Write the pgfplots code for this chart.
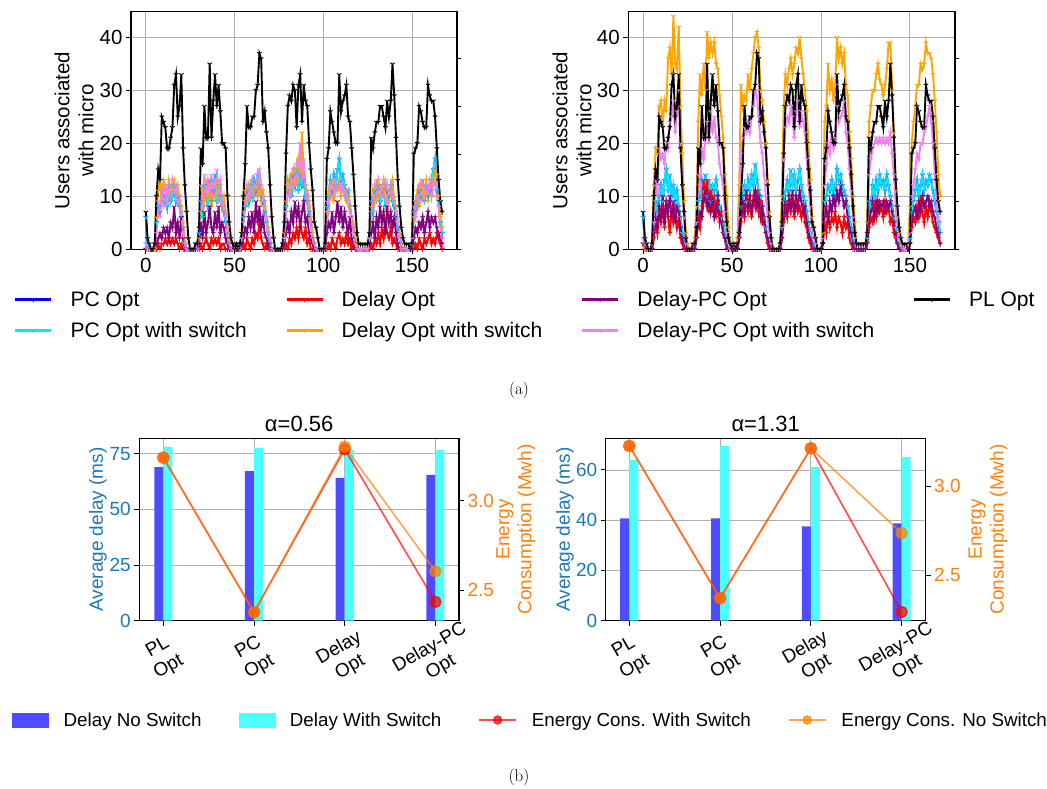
\documentclass[border=0pt]{standalone}
\usepackage{fontspec}
\usepackage{pgfplots}
\usepackage{pgfplotstable}
\pgfplotsset{compat=1.18}
\usetikzlibrary{plotmarks}
\newfontfamily\pf{Liberation Sans}

\definecolor{cPC}{RGB}{0,0,255}
\definecolor{cPCs}{RGB}{0,235,255}
\definecolor{cD}{RGB}{255,0,0}
\definecolor{cDs}{RGB}{255,165,0}
\definecolor{cDP}{RGB}{128,0,128}
\definecolor{cDPs}{RGB}{238,130,238}
\definecolor{tabblue}{RGB}{31,119,180}
\definecolor{taborange}{RGB}{255,127,14}
\definecolor{barblue}{RGB}{77,77,255}
\definecolor{barcyan}{RGB}{77,255,255}
\definecolor{gridgray}{RGB}{176,176,176}

% top-left: x, PC with switch (c), Delay (r), Delay with switch (o), Delay-PC (p), Delay-PC with switch (v), PL (k)
\pgfplotstableread{
x c r o p v k
0 6 0 0 0 1 7
1 1 0 0 0 0 2
2 0 0 0 0 0 1
3 0 0 0 0 0 0
4 0 0 0 0 0 0
5 0 0 0 1 1 1
6 5 0 6 1 3 10
7 8 1 11 2 9 15
8 7 0 13 3 6 13
9 11 1 9 2 11 25
10 9 1 13 4 8 24
11 10 2 12 3 12 23
12 8 1 10 4 9 19
13 12 2 13 2 12 19
14 9 1 11 5 10 21
15 10 2 12 4 13 23
16 12 1 13 8 11 31
17 9 2 10 3 12 33
18 10 1 12 5 9 25
19 8 0 9 2 10 27
20 6 1 8 6 7 33
21 4 0 5 2 3 19
22 1 0 2 0 1 12
23 0 0 0 0 0 7
24 0 0 0 0 0 2
25 0 0 0 0 0 0
26 0 0 0 0 0 0
27 0 0 0 0 0 0
28 0 0 0 0 1 1
29 1 0 1 0 0 1
30 3 0 2 1 4 4
31 9 1 7 5 12 19
32 6 0 11 2 8 16
33 12 1 9 7 14 27
34 10 2 13 3 10 21
35 8 1 10 5 13 21
36 13 0 12 8 11 35
37 9 2 8 4 14 21
38 11 1 12 3 10 28
39 14 2 10 7 12 33
40 9 1 13 4 15 27
41 12 2 9 8 11 31
42 10 0 12 3 13 26
43 8 1 8 5 9 20
44 7 1 10 4 8 20
45 5 0 7 2 6 19
46 3 0 4 1 3 10
47 1 0 2 0 1 5
48 0 0 0 0 0 2
49 0 0 0 0 0 1
50 0 0 0 0 0 0
51 0 0 0 0 1 1
52 0 0 0 0 0 0
53 1 0 0 0 0 1
54 2 0 3 1 2 3
55 6 1 7 2 5 10
56 8 0 11 4 9 16
57 11 2 9 3 12 27
58 9 1 12 6 10 23
59 12 0 10 4 11 23
60 10 2 13 7 13 25
61 13 1 11 3 10 25
62 11 3 12 9 12 30
63 14 2 10 5 14 31
64 12 5 13 8 15 37
65 10 2 9 4 12 36
66 9 1 11 6 10 24
67 7 0 8 3 9 26
68 5 1 6 2 6 22
69 3 0 4 1 3 19
70 1 0 2 0 2 12
71 0 0 0 0 0 6
72 0 0 0 0 0 2
73 0 0 0 0 0 0
74 0 0 0 0 0 0
75 0 0 0 0 0 0
76 0 0 0 0 0 0
77 0 0 0 0 1 1
78 2 0 3 1 2 5
79 8 1 9 3 7 18
80 11 0 13 5 12 27
81 13 2 11 3 10 29
82 10 1 14 7 13 28
83 14 3 12 5 15 31
84 12 2 15 9 12 30
85 15 4 13 6 16 23
86 11 2 17 8 14 31
87 14 5 15 4 20 33
88 12 3 22 7 13 24
89 13 2 14 9 17 31
90 10 4 12 5 12 28
91 9 1 11 6 10 27
92 7 2 9 3 8 20
93 5 0 6 2 5 15
94 2 0 3 1 2 11
95 1 0 1 0 1 5
96 0 0 0 0 0 4
97 0 0 0 0 0 2
98 0 0 0 0 0 0
99 0 0 0 0 0 0
100 0 0 0 0 0 0
101 1 0 0 0 1 1
102 8 0 7 3 9 17
103 10 1 11 5 7 19
104 13 0 10 4 12 26
105 11 2 13 7 10 24
106 14 1 9 3 13 22
107 12 0 12 6 11 20
108 15 2 11 9 12 20
109 17 3 13 5 13 33
110 13 1 10 8 11 26
111 14 2 12 4 12 28
112 12 1 11 7 10 29
113 10 3 9 5 11 31
114 11 1 10 3 9 25
115 8 2 8 6 7 24
116 6 0 6 2 6 19
117 4 1 5 1 3 14
118 2 0 2 0 1 8
119 0 0 1 0 0 3
120 0 0 0 0 0 1
121 0 0 0 0 0 1
122 0 0 0 0 0 1
123 0 0 0 0 0 1
124 0 0 0 0 0 1
125 0 0 0 0 0 1
126 2 0 2 1 2 3
127 9 1 8 3 7 21
128 7 0 11 5 10 19
129 11 2 9 2 12 22
130 10 1 13 6 9 24
131 12 3 10 4 13 24
132 9 1 12 8 11 27
133 11 4 11 5 10 27
134 12 2 13 7 12 25
135 8 6 10 3 13 23
136 11 3 12 8 9 28
137 10 2 9 5 11 25
138 12 4 11 7 12 28
139 9 1 13 4 10 35
140 8 2 9 6 9 29
141 6 1 8 3 7 21
142 4 0 5 1 5 13
143 2 0 3 0 2 8
144 1 0 1 0 0 4
145 0 0 0 0 0 2
146 0 0 0 0 0 1
147 0 0 0 0 0 1
148 0 0 0 0 0 1
149 0 0 0 0 0 0
150 1 0 1 0 2 1
151 7 0 6 2 8 18
152 9 1 9 4 6 19
153 8 0 11 3 10 20
154 11 2 8 5 12 27
155 10 1 12 4 9 26
156 13 0 10 6 13 24
157 9 2 11 3 10 23
158 12 1 13 5 12 23
159 10 2 9 7 11 31
160 11 3 12 4 13 29
161 13 1 10 6 10 28
162 15 2 13 5 12 28
163 17 1 15 6 13 25
164 11 3 14 4 10 19
165 9 2 10 3 8 13
166 5 1 6 2 4 9
167 3 0 4 1 2 7
}\TL

% top-right
\pgfplotstableread{
x c r o p v k
0 6 1 1 1 2 7
1 1 0 0 1 1 2
2 0 0 0 0 1 1
3 0 0 0 0 0 0
4 0 0 0 0 0 0
5 0 0 1 0 1 1
6 5 2 12 3 5 10
7 9 5 19 6 13 15
8 7 3 18 4 10 13
9 10 7 27 8 19 25
10 12 5 28 6 17 24
11 9 8 23 10 18 23
12 13 4 28 5 16 19
13 15 9 26 9 20 19
14 11 6 36 7 19 21
15 14 3 38 10 24 23
16 10 8 33 6 25 31
17 12 5 44 9 28 33
18 9 7 35 5 22 25
19 11 4 34 8 26 27
20 8 6 42 7 30 33
21 6 2 27 4 20 19
22 3 1 18 2 12 12
23 2 0 9 1 6 7
24 0 0 3 0 1 2
25 0 0 1 0 0 0
26 0 0 0 0 0 0
27 0 0 0 0 0 0
28 0 0 1 0 1 1
29 1 0 2 0 1 1
30 4 2 8 2 5 4
31 9 6 24 5 14 19
32 10 4 33 7 12 16
33 13 8 29 6 19 27
34 11 13 35 9 17 21
35 14 9 30 11 21 21
36 10 13 41 8 24 35
37 13 7 36 10 20 21
38 9 11 39 7 26 28
39 12 8 37 9 22 33
40 11 10 39 6 25 27
41 13 6 35 8 21 31
42 10 9 34 10 20 26
43 8 5 29 6 16 20
44 6 7 25 5 14 20
45 5 3 21 3 12 19
46 3 2 14 2 7 10
47 1 0 10 1 3 5
48 0 0 4 0 1 2
49 0 0 1 0 0 1
50 0 0 0 0 0 0
51 0 0 1 0 1 1
52 0 0 0 0 0 0
53 1 0 2 0 1 1
54 3 2 12 2 6 3
55 8 5 31 6 18 10
56 10 8 27 9 21 16
57 12 6 29 7 23 27
58 9 10 28 11 22 23
59 13 7 33 8 24 23
60 11 9 30 10 22 25
61 14 6 34 7 25 25
62 12 10 37 9 27 30
63 16 8 40 11 30 31
64 13 11 41 8 29 37
65 11 7 38 10 25 36
66 10 9 30 6 20 24
67 8 5 28 8 18 26
68 6 6 24 5 14 22
69 4 3 20 3 10 19
70 2 1 13 2 6 12
71 1 0 7 1 3 6
72 0 0 2 0 1 2
73 0 0 0 0 0 0
74 0 0 0 0 0 0
75 0 0 0 0 0 0
76 0 0 0 0 0 0
77 0 0 1 0 1 1
78 4 2 10 2 5 5
79 9 5 27 6 17 18
80 11 8 33 9 23 27
81 13 6 31 7 25 29
82 10 9 34 10 24 28
83 15 7 36 8 27 31
84 12 10 33 11 25 30
85 14 6 35 7 21 23
86 11 9 38 10 26 31
87 13 7 37 8 28 33
88 15 8 40 11 23 24
89 12 6 36 9 26 31
90 10 8 33 7 24 28
91 9 5 30 8 22 27
92 7 4 26 5 17 20
93 5 2 20 3 12 15
94 3 1 13 2 8 11
95 1 0 6 1 3 5
96 1 0 4 0 2 4
97 0 0 2 0 1 2
98 0 0 0 0 0 0
99 0 0 0 0 0 0
100 0 0 0 0 0 0
101 1 1 3 1 2 1
102 9 5 24 6 12 17
103 10 3 27 8 16 19
104 12 7 35 5 20 26
105 11 4 30 9 18 24
106 13 6 32 7 22 22
107 10 5 28 10 19 20
108 12 7 31 8 21 20
109 15 4 40 11 27 33
110 13 6 36 9 24 26
111 14 5 38 12 25 28
112 12 3 35 10 26 29
113 11 6 37 8 28 31
114 10 4 31 9 22 25
115 8 5 29 6 20 24
116 6 2 22 4 15 19
117 4 1 17 3 11 14
118 2 0 10 1 6 8
119 1 0 5 0 2 3
120 0 0 1 0 1 1
121 0 0 1 0 1 1
122 0 0 1 0 1 1
123 0 0 1 0 1 1
124 0 0 1 0 1 1
125 0 0 1 0 1 1
126 2 1 5 1 3 3
127 9 4 24 5 14 21
128 8 6 27 7 17 19
129 12 5 30 9 19 22
130 10 8 30 6 20 24
131 13 6 33 9 21 24
132 11 9 35 7 20 27
133 14 7 32 9 21 27
134 12 8 31 8 20 25
135 13 6 29 9 21 23
136 11 9 31 7 20 28
137 14 7 34 9 21 25
138 12 8 39 8 20 28
139 10 5 39 9 22 35
140 8 6 30 7 18 29
141 6 3 22 5 14 21
142 4 2 11 3 8 13
143 2 1 6 1 4 8
144 1 0 3 0 2 4
145 0 0 1 0 1 2
146 0 0 0 0 0 1
147 0 0 0 0 0 1
148 0 0 0 0 0 1
149 0 0 1 0 1 0
150 2 1 8 1 3 1
151 7 4 20 5 10 18
152 9 6 24 7 12 19
153 11 5 27 8 15 20
154 13 8 31 6 18 27
155 10 6 31 9 17 26
156 12 9 35 7 20 24
157 14 7 34 10 20 23
158 11 5 35 8 22 23
159 13 8 39 9 23 31
160 12 6 37 10 25 29
161 14 9 37 8 27 28
162 13 7 36 9 24 28
163 11 5 33 7 20 25
164 9 4 28 6 14 19
165 7 3 22 4 9 13
166 5 2 14 3 6 9
167 3 1 10 1 5 7
}\TR

\pgfplotsset{
  ser/.style={line width=1.9pt, mark=Mercedes star flipped, mark size=2.6pt,
    mark options={line width=0.9pt, solid}},
  topax/.style={scale only axis, width=326pt, height=237.6pt, anchor=south west,
    xmin=-8.35, xmax=175.35, ymin=0, ymax=44.9,
    xtick={0,50,100,150}, ytick={0,10,20,30,40},
    xmajorgrids, ymajorgrids, major grid style={gridgray, line width=0.9pt},
    axis line style={line width=1.1pt}, tick style={black, line width=1pt},
    tick align=outside, major tick length=5pt, xtick pos=bottom, ytick pos=left,
    ticklabel style={font=\pf\fontsize{20.5}{24}\selectfont},
    /pgf/number format/assume math mode=true,
    ylabel style={font=\pf\fontsize{20.5}{24}\selectfont, align=center, anchor=center}},
  topright/.style={scale only axis, width=326pt, height=237.6pt, anchor=south west,
    xmin=0, xmax=1, ymin=0, ymax=44.9, axis x line=none, axis y line*=right,
    ytick={0,9,18,27,36}, yticklabels={}, tick align=outside, major tick length=4pt,
    tick style={black, line width=1pt}, axis line style={line width=1.1pt}},
  botax/.style={scale only axis, width=320pt, height=182.4pt, anchor=south west,
    xtick={0,1,2,3}, xticklabels={{PL\\Opt},{PC\\Opt},{Delay\\Opt},{Delay-PC\\Opt}},
    xmajorgrids, ymajorgrids, major grid style={gridgray, line width=0.9pt},
    axis line style={line width=1.1pt}, tick style={black, line width=1pt},
    tick align=outside, major tick length=5pt, xtick pos=bottom, ytick pos=left,
    ticklabel style={font=\pf\fontsize{19}{22}\selectfont},
    yticklabel style={tabblue},
    xticklabel style={align=center, yshift=-32pt, rotate=30, anchor=center},
    /pgf/number format/assume math mode=true,
    ylabel={Average delay (ms)},
    ylabel style={font=\pf\fontsize{19}{22}\selectfont, tabblue, anchor=center},
    title style={font=\pf\fontsize{22}{26}\selectfont, yshift=-3pt}},
  botright/.style={scale only axis, width=320pt, height=182.4pt, anchor=south west,
    axis x line=none, axis y line*=right, tick align=outside, major tick length=5pt,
    tick style={black, line width=1pt}, axis line style={line width=1.1pt},
    ytick={2.5,3.0}, yticklabels={2.5,3.0},
    yticklabel style={font=\pf\fontsize{19}{22}\selectfont, taborange},
    ylabel={Energy\\Consumption (Mwh)},
    ylabel style={font=\pf\fontsize{19}{22}\selectfont, taborange, align=center, anchor=center}},
  ensw/.style={red, opacity=0.7, line width=1.6pt, mark=*, mark size=5.5pt},
  ennosw/.style={orange, opacity=0.7, line width=1.6pt, mark=*, mark size=5.5pt},
}

\begin{document}
\begin{tikzpicture}
\useasboundingbox (0,0) rectangle (1047pt,-789pt);

% ---------------- top left
\begin{axis}[topax, at={(131pt,-249.3pt)}, ylabel={Users associated\\with micro},
  ylabel style={at={(axis description cs:-0.175,0.5)}}]
\addplot[ser, cPC] table[x=x, y=c] {\TL};
\addplot[ser, cPCs] table[x=x, y=c] {\TL};
\addplot[ser, cD] table[x=x, y=r] {\TL};
\addplot[ser, cDs] table[x=x, y=o] {\TL};
\addplot[ser, cDP] table[x=x, y=p] {\TL};
\addplot[ser, cDPs] table[x=x, y=v] {\TL};
\addplot[ser, black] table[x=x, y=k] {\TL};
\end{axis}
\begin{axis}[topright, at={(131pt,-249.3pt)}]
\end{axis}

% ---------------- top right
\begin{axis}[topax, at={(628.3pt,-249.3pt)}, width=326.7pt, ylabel={Users associated\\with micro},
  ylabel style={at={(axis description cs:-0.172,0.5)}}]
\addplot[ser, cPC] table[x=x, y=c] {\TR};
\addplot[ser, cPCs] table[x=x, y=c] {\TR};
\addplot[ser, cD] table[x=x, y=r] {\TR};
\addplot[ser, cDs] table[x=x, y=o] {\TR};
\addplot[ser, cDP] table[x=x, y=p] {\TR};
\addplot[ser, cDPs] table[x=x, y=v] {\TR};
\addplot[ser, black] table[x=x, y=k] {\TR};
\end{axis}
\begin{axis}[topright, at={(628.3pt,-249.3pt)}, width=326.7pt]
\end{axis}

% ---------------- top legend
\begin{axis}[hide axis, scale only axis, width=1047pt, height=789pt, anchor=south west,
  at={(0pt,-789pt)}, xmin=0, xmax=1047, ymin=-789, ymax=0,
  legend columns=4, legend cell align=left,
  legend style={at={(axis cs:14,-315)}, anchor=west, draw=none, fill=none,
    font=\pf\fontsize{21}{25}\selectfont, inner sep=0pt, row sep=10pt,
    /tikz/every odd column/.append style={column sep=16pt},
    /tikz/every even column/.append style={column sep=36.5pt}},
  legend image code/.code={\draw[line width=2.4pt, mark repeat=2,mark phase=2] plot coordinates {(0pt,0pt) (18pt,0pt) (36pt,0pt)};}]
\addlegendimage{ser, cPC}\addlegendentry{PC Opt}
\addlegendimage{ser, cD}\addlegendentry{Delay Opt}
\addlegendimage{ser, cDP}\addlegendentry{Delay-PC Opt}
\addlegendimage{ser, black}\addlegendentry{PL Opt}
\addlegendimage{ser, cPCs}\addlegendentry{PC Opt with switch}
\addlegendimage{ser, cDs}\addlegendentry{Delay Opt with switch}
\addlegendimage{ser, cDPs}\addlegendentry{Delay-PC Opt with switch}
\end{axis}

% ---------------- bottom left
\begin{axis}[botax, at={(139.3pt,-620.7pt)}, width=319.7pt, xmin=-0.265, xmax=3.26,
  ymin=0, ymax=81.9, ytick={0,25,50,75}, title={α=0.56},
  ylabel style={at={(axis description cs:-0.129,0.5)}}]
\addplot[ybar, bar width=0.1, bar shift=0pt, fill=barblue, draw=none]
  coordinates {(-0.05,69.0) (0.95,67.2) (1.95,64.1) (2.95,65.5)};
\addplot[ybar, bar width=0.1, bar shift=0pt, fill=barcyan, draw=none]
  coordinates {(0.05,78.0) (1.05,77.6) (2.05,76.7) (3.05,76.6)};
\end{axis}
\begin{axis}[botright, at={(139.3pt,-620.7pt)}, width=319.7pt, xmin=-0.265, xmax=3.26,
  ymin=2.33, ymax=3.348, ylabel style={at={(axis description cs:1.178,0.5)}}]
\addplot[ensw] coordinates {(0,3.240) (1,2.377) (2,3.287) (3,2.435)};
\addplot[ennosw] coordinates {(0,3.240) (1,2.377) (2,3.301) (3,2.606)};
\end{axis}

% ---------------- bottom right
\begin{axis}[botax, at={(605.7pt,-620.7pt)}, width=320pt, xmin=-0.26, xmax=3.265,
  ymin=0, ymax=72.6, ytick={0,20,40,60}, title={α=1.31},
  ylabel style={at={(axis description cs:-0.127,0.5)}}]
\addplot[ybar, bar width=0.1, bar shift=0pt, fill=barblue, draw=none]
  coordinates {(-0.05,40.7) (0.95,40.7) (1.95,37.5) (2.95,38.7)};
\addplot[ybar, bar width=0.1, bar shift=0pt, fill=barcyan, draw=none]
  coordinates {(0.05,63.9) (1.05,69.5) (2.05,61.1) (3.05,65.1)};
\end{axis}
\begin{axis}[botright, at={(605.7pt,-620.7pt)}, width=320pt, xmin=-0.26, xmax=3.265,
  ymin=2.246, ymax=3.269, ylabel style={at={(axis description cs:1.195,0.5)}}]
\addplot[ensw] coordinates {(0,3.226) (1,2.372) (2,3.213) (3,2.295)};
\addplot[ennosw] coordinates {(0,3.226) (1,2.372) (2,3.213) (3,2.737)};
\end{axis}

% ---------------- bottom legend
\begin{axis}[hide axis, scale only axis, width=1047pt, height=789pt, anchor=south west,
  at={(0pt,-789pt)}, xmin=0, xmax=1047, ymin=-789, ymax=0,
  legend columns=4, legend cell align=left,
  legend style={at={(axis cs:12,-720)}, anchor=west, draw=none, fill=none,
    font=\pf\fontsize{18.8}{22}\selectfont, inner sep=0pt,
    /tikz/every odd column/.append style={column sep=13pt},
    /tikz/every even column/.append style={column sep=35pt}}]
\addlegendimage{legend image code/.code={\fill[barblue] (0pt,-7pt) rectangle (36pt,7pt);}}
\addlegendentry{Delay No Switch}
\addlegendimage{legend image code/.code={\fill[barcyan] (0pt,-7pt) rectangle (36pt,7pt);}}
\addlegendentry{Delay With Switch}
\addlegendimage{red, opacity=0.7, line width=1.5pt, mark=*, mark size=4pt,
  legend image code/.code={\draw[mark repeat=2,mark phase=2] plot coordinates {(0pt,0pt) (18.5pt,0pt) (37pt,0pt)};}}
\addlegendentry{Energy Cons. With Switch}
\addlegendimage{orange, opacity=0.7, line width=1.5pt, mark=*, mark size=4pt,
  legend image code/.code={\draw[mark repeat=2,mark phase=2] plot coordinates {(0pt,0pt) (18.5pt,0pt) (37pt,0pt)};}}
\addlegendentry{Energy Cons. No Switch}
\end{axis}

% ---------------- captions
\node[font=\fontsize{17}{20}\selectfont] at (519pt,-390pt) {(a)};
\node[font=\fontsize{17}{20}\selectfont] at (519pt,-777pt) {(b)};
\end{tikzpicture}
\end{document}
